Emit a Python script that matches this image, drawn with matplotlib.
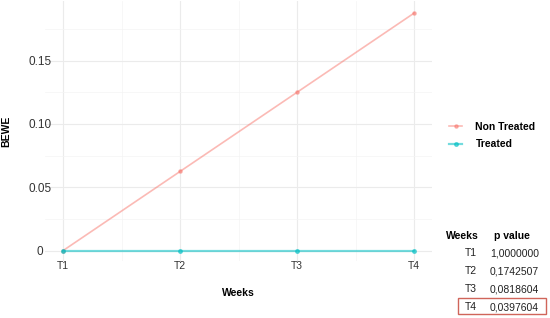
import matplotlib.pyplot as plt
import numpy as np
from matplotlib.patches import Rectangle

plt.rcParams['font.family'] = ['Liberation Sans', 'DejaVu Sans']

weeks = ['T1', 'T2', 'T3', 'T4']
non_treated = [0.0, 0.0625, 0.125, 0.1875]
treated = [0.0, 0.0, 0.0, 0.0]
p_values = ['1,0000000', '0,1742507', '0,0818604', '0,0397604']

x = np.arange(1, len(weeks) + 1)

fig = plt.figure(figsize=(5.5, 3.18), dpi=100)
ax = fig.add_axes([0.0827, 0.18, 0.702, 0.816])

ax.plot(x, non_treated, color='#F8766D', alpha=0.5, lw=1.2, marker='o', ms=2.3,
        label='Non Treated')
ax.plot(x, treated, color='#00BFC4', alpha=0.55, lw=1.6, marker='o', ms=2.6,
        label='Treated')

ax.set_xlim(0.85, 4.15)
ax.set_ylim(-0.008, 0.196875)
ax.set_xticks(x)
ax.set_xticklabels(weeks)
ax.set_yticks([0, 0.05, 0.10, 0.15])
ax.set_yticklabels(['0', '0.05', '0.10', '0.15'])
ax.set_xticks([1.5, 2.5, 3.5], minor=True)
ax.set_yticks([0.025, 0.075, 0.125, 0.175], minor=True)
ax.grid(which='major', color='#ebebeb', lw=0.8)
ax.grid(which='minor', color='#f4f4f4', lw=0.5)
ax.set_axisbelow(True)
ax.tick_params(which='both', length=0, colors='#333333')
ax.tick_params(axis='x', labelsize=7.5, pad=0.5)
ax.tick_params(axis='y', labelsize=8.5, pad=4)
for lab in ax.get_yticklabels():
    lab.set_ha('center')
for s in ax.spines.values():
    s.set_visible(False)

ax.set_xlabel('Weeks', fontsize=7.5, fontweight='bold', labelpad=12)
ax.set_ylabel('BEWE', fontsize=7.5, fontweight='bold')
ax.yaxis.set_label_coords(-0.088, 0.5)

leg = fig.legend(loc='upper left', bbox_to_anchor=(0.80, 0.646), frameon=False,
                 fontsize=7.5, handlelength=1.2, handletextpad=1.3,
                 labelspacing=0.7)
for t in leg.get_texts():
    t.set_fontweight('bold')

# p value table
W, H = 550, 318
def fx(px):
    return px / W
def fy(py):
    return 1 - py / H

fig.text(fx(462), fy(236), 'Weeks', fontsize=7.5, fontweight='bold',
         ha='center', va='center')
fig.text(fx(512), fy(236), 'p value', fontsize=7.5, fontweight='bold',
         ha='center', va='center')
row_y = [253, 271, 289, 307]
for wk, pv, ry in zip(weeks, p_values, row_y):
    fig.text(fx(477), fy(ry), wk, fontsize=7.5, ha='right', va='center',
             color='#222222')
    fig.text(fx(490), fy(ry), pv, fontsize=7.5, ha='left', va='center',
             color='#222222')

fig.add_artist(Rectangle((fx(458), fy(314)), fx(546) - fx(458),
                         fy(298) - fy(314), transform=fig.transFigure,
                         fill=False, edgecolor='#D0655A', lw=1.0))

fig.savefig('out.png', dpi=100)
